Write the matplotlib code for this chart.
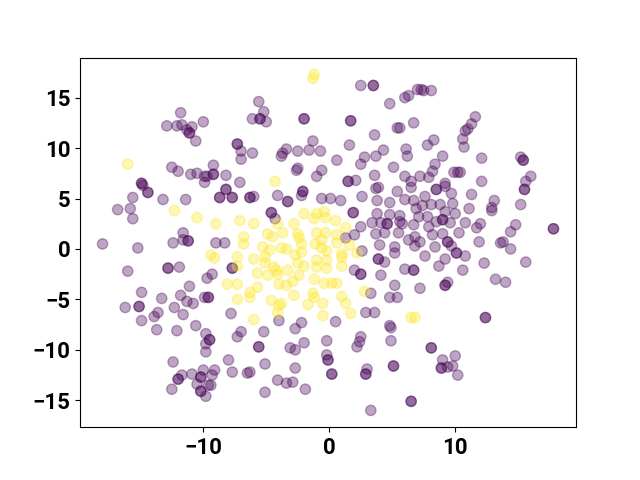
import numpy as np
import matplotlib
matplotlib.use("Agg")
import matplotlib.pyplot as plt
from matplotlib.ticker import MultipleLocator

# class 0 (purple) points; repeated pairs are the darker overlaps
purple = [
    (-11.8, 13.5), (-12.9, 12.2), (-12.1, 12.2), (-11.7, 12.3), (-11.3, 11.8), (-11.1, 11.5), (-11.1, 11.5),
    (-10.9, 12.1), (-10.6, 10.7), (-10.0, 12.6), (-12.5, 8.1), (-12.0, 7.7), (-11.0, 7.4), (-10.5, 7.5), (-9.9, 7.2),
    (-5.6, 14.6), (-5.2, 13.6), (-6.1, 12.9), (-5.5, 12.9), (-5.5, 12.9), (-5.0, 12.6), (-2.0, 12.9), (-2.0, 12.9),
    (-7.3, 10.4), (-7.3, 10.4), (-7.0, 9.7), (-7.0, 8.9), (-6.1, 9.5), (-1.3, 10.7), (-1.6, 9.8), (-0.7, 9.7),
    (-2.5, 9.7), (-3.4, 9.9), (-3.7, 9.5), (-3.8, 9.2), (-9.2, 8.3), (-9.2, 7.4), (-9.2, 7.4), (-9.7, 7.2),
    (-8.2, 7.3), (-2.5, 8.0), (-2.6, 7.8), (-0.6, 7.8), (-1.0, 7.2),
    (2.5, 16.2), (3.5, 16.2), (3.5, 16.2), (7.0, 15.8), (7.3, 15.8), (7.5, 15.7), (8.1, 15.7), (6.3, 15.2),
    (6.0, 15.0), (4.8, 14.4), (1.7, 12.7), (1.7, 12.7), (6.7, 12.5), (5.6, 12.0), (5.4, 12.0), (3.6, 11.3),
    (1.6, 10.3), (8.3, 10.8), (7.8, 10.3), (4.3, 9.8), (6.1, 9.9), (6.2, 9.2), (0.6, 8.8), (2.8, 9.1),
    (2.5, 8.4), (3.7, 9.2), (9.0, 9.2), (8.4, 8.4), (5.1, 8.1), (8.2, 7.7), (3.6, 7.3), (6.0, 7.2),
    (7.2, 7.2), (7.9, 7.1), (1.5, 6.7), (1.5, 6.7), (2.1, 6.8), (6.5, 6.7), (9.2, 6.5), (9.9, 7.6),
    (11.6, 13.1), (11.3, 12.4), (11.0, 11.9), (10.8, 11.7), (10.6, 10.9), (10.7, 10.1), (12.1, 9.0), (15.2, 9.1),
    (15.4, 8.8), (15.4, 8.8), (10.2, 7.6), (10.4, 7.6), (16.0, 7.2), (12.1, 6.7), (15.6, 6.7),
    (-14.9, 6.5), (-14.9, 6.5), (-14.8, 6.3), (-14.4, 5.6), (-14.4, 5.6), (-15.6, 5.1), (-16.8, 3.9), (-15.8, 4.0),
    (-15.6, 3.0), (-13.2, 4.9), (-11.4, 4.9), (-11.6, 1.6), (-11.6, 0.9), (-11.2, 0.8), (-11.2, 0.8), (-12.4, 0.6),
    (-18.0, 0.5), (-15.2, 0.1), (-16.0, -2.2), (-12.8, -1.9), (-12.8, -1.9), (-11.9, -1.8), (-14.9, -4.3),
    (-11.1, -3.7), (-11.8, -4.6), (-11.3, -5.2), (-10.8, -5.4), (-13.3, -4.9), (-9.9, -4.8), (-15.1, -5.7),
    (-15.1, -5.7), (-16.2, -5.8),
    (-9.9, 6.6), (-8.2, 5.9), (-8.2, 5.9), (-7.7, 5.1), (-7.7, 5.1), (-7.1, 6.6), (-8.7, 5.1), (-8.7, 5.1),
    (-6.3, 5.1), (-6.3, 5.1), (-6.0, 5.2), (-4.1, 5.3), (-3.3, 4.7), (-3.3, 4.7), (-2.1, 5.7), (-2.1, 5.7),
    (-2.2, 5.3), (-0.6, 5.0), (-4.6, 3.6), (-4.6, 3.6), (-4.3, 3.0), (-9.0, 0.6), (-8.3, 0.6), (-7.7, -1.9),
    (-7.7, -1.9), (-9.3, -2.5), (-9.7, -2.9), (-9.6, -4.8), (-9.6, -4.8),
    (3.7, 6.0), (3.9, 6.1), (5.4, 5.7), (6.5, 6.1), (8.5, 5.9), (8.5, 5.9), (9.2, 6.2), (9.7, 5.5),
    (0.1, 5.0), (0.9, 4.8), (2.6, 5.2), (3.8, 4.8), (4.8, 4.6), (6.0, 4.9), (6.7, 4.8), (7.6, 5.2),
    (7.4, 4.3), (8.1, 4.4), (8.8, 4.4), (6.9, 4.0), (9.2, 3.7), (9.8, 4.5), (1.9, 3.6), (1.9, 3.6),
    (3.8, 3.5), (4.8, 3.4), (5.6, 3.3), (7.1, 3.2), (7.8, 3.2), (3.4, 2.6), (4.1, 2.6), (4.6, 2.5),
    (4.6, 2.5), (5.8, 2.5), (5.6, 2.7), (6.7, 2.4), (8.5, 2.7), (9.0, 2.9), (9.0, 2.9), (2.5, 2.2),
    (7.9, 2.2), (9.6, 2.6), (2.0, 1.4), (1.3, 1.1), (3.7, 1.5), (4.4, 1.6), (5.5, 1.6), (6.3, 0.9),
    (6.8, 1.2), (7.2, 0.7), (8.2, 1.4), (9.0, 1.5), (9.4, 0.7), (9.4, 0.7), (6.8, 0.3), (8.4, 0.2),
    (4.0, 0.4), (5.2, 0.2), (9.7, 0.3), (2.6, -0.2), (5.2, -0.4), (3.9, -1.0), (3.9, -1.0), (4.4, -1.3),
    (7.6, -0.7), (9.2, -1.0), (8.7, -1.7), (6.0, -2.0), (6.7, -2.1), (6.7, -2.1), (2.0, -2.1), (2.5, -2.5),
    (2.5, -2.5), (4.1, -2.6), (5.2, -3.6), (7.2, -3.9), (9.2, -3.6), (9.2, -3.6), (9.4, -3.3), (4.8, -4.8),
    (5.4, -4.8), (3.3, -4.4),
    (15.5, 5.9), (15.5, 5.9), (11.3, 5.4), (13.1, 4.8), (12.9, 4.1), (12.9, 3.8), (11.1, 4.0), (15.2, 4.4),
    (10.0, 3.5), (10.8, 2.6), (12.0, 2.5), (11.7, 2.1), (14.8, 2.4), (14.4, 1.7), (17.8, 2.0), (17.8, 2.0),
    (10.3, 1.6), (11.9, 0.7), (13.6, 0.6), (13.8, 0.7), (14.4, 0.0), (10.1, -0.4), (10.1, -0.4), (10.8, -0.7),
    (12.3, -1.4), (15.6, -1.3), (10.6, -2.1), (13.2, -3.0), (14.0, -3.3),
    (-14.9, -7.1), (-13.9, -6.7), (-13.6, -6.3), (-13.7, -8.0), (-12.3, -5.8), (-12.1, -8.1), (-11.6, -6.5),
    (-10.6, -7.6), (-9.8, -8.4), (-9.8, -9.4), (-9.8, -10.2), (-12.4, -11.2), (-11.7, -12.5), (-12.0, -12.9),
    (-12.0, -12.9), (-10.9, -12.4), (-10.2, -12.7), (-10.2, -12.7), (-10.0, -12.0), (-12.5, -13.9),
    (-10.5, -13.4), (-10.2, -14.1), (-10.2, -14.1), (-9.8, -14.6),
    (-7.8, -6.4), (-4.0, -7.1), (-2.2, -7.3), (-2.7, -7.9), (-7.0, -8.2), (-7.3, -8.7), (-5.2, -8.2),
    (-9.5, -9.0), (-9.5, -9.0), (-5.6, -9.7), (-5.6, -9.7), (-3.1, -9.8), (-2.7, -10.0), (-2.0, -9.3),
    (-0.2, -9.1), (-8.0, -11.0), (-5.1, -11.4), (-2.7, -11.8), (-0.2, -10.5), (-0.1, -11.0), (-0.1, -11.0),
    (-9.1, -12.0), (-9.3, -12.5), (-7.7, -12.2), (-6.5, -12.3), (-6.3, -12.2), (-4.1, -13.0), (-3.4, -13.3),
    (-2.9, -13.2), (-1.9, -13.9), (-5.1, -14.2), (-9.6, -13.5), (-9.4, -13.5),
    (2.9, -6.3), (3.6, -6.3), (0.5, -7.2), (4.8, -7.6), (4.9, -7.8), (4.9, -9.1), (2.5, -8.7), (2.4, -9.2),
    (2.2, -9.7), (8.1, -9.8), (8.1, -9.8), (0.2, -12.4), (0.2, -12.4), (3.0, -11.9), (2.9, -12.4), (2.9, -12.4),
    (5.1, -11.6), (5.1, -11.6), (9.0, -11.0), (8.9, -11.8), (8.9, -11.8), (9.4, -11.7), (9.8, -11.6),
    (6.5, -15.1), (6.5, -15.1), (3.3, -16.0),
    (12.4, -6.8), (12.4, -6.8), (10.0, -10.6), (10.2, -12.5),
]

# class 1 (yellow) points
yellow = [
    (-16.0, 8.4), (-1.2, 17.3), (-1.3, 16.9), (-12.3, 3.8), (-10.5, 3.1), (-4.3, 6.7),
    (-9.0, 2.5), (-7.1, 2.8), (-6.0, 2.5), (-4.1, 2.5), (-2.0, 3.5), (-1.0, 3.5), (-0.4, 3.7), (-1.2, 3.0),
    (-0.3, 3.1), (-6.8, 1.2), (-6.8, 0.5), (-4.9, 1.5), (-4.5, 1.2), (-3.7, 1.6), (-2.8, 2.5), (-2.5, 1.5),
    (-2.4, 1.1), (-2.2, 0.5), (-1.0, 1.6), (-0.3, 1.6), (-0.6, 0.9), (-1.1, 0.5), (-0.6, 0.1), (-0.2, -0.2),
    (-5.3, 0.2), (-4.7, -0.1), (-3.8, 0.1), (-3.4, 0.0), (-2.2, -0.3), (-2.7, -0.6), (-9.4, -0.6), (-9.1, -0.9),
    (-7.3, -0.8), (-6.0, -1.0), (-5.1, -0.8), (-5.1, -1.4), (-4.4, -1.8), (-4.2, -2.1), (-3.3, -2.1),
    (-2.5, -1.4), (-2.0, -1.7), (-1.0, -1.1), (-1.0, -1.8), (-0.2, -1.1), (-0.2, -1.9), (-7.3, -1.7),
    (-5.7, -2.4), (-4.9, -2.6), (-4.1, -2.5), (-2.4, -2.6), (-2.9, -3.2), (-3.4, -3.6), (-1.2, -3.0),
    (-0.4, -3.4), (-8.1, -3.5), (-7.3, -3.5), (-5.7, -3.8), (-6.3, -4.3), (-6.3, -4.8), (-4.0, -3.5),
    (-2.8, -4.6), (-1.3, -4.4), (-1.2, -4.8), (-7.3, -5.0), (-4.6, -5.1), (-3.8, -5.4), (-0.5, -5.4),
    (0.5, 2.8), (1.3, 2.1), (0.6, 1.4), (0.6, 0.6), (1.6, 0.4), (1.0, -0.5), (1.0, -0.8), (2.2, -0.4),
    (1.0, -1.7), (0.2, -3.4), (0.6, -3.4), (2.8, -4.2), (1.0, -4.7), (1.3, -5.4),
    (-6.0, -7.0), (-4.0, -5.6), (-4.1, -6.3), (-1.7, -5.5), (-0.5, -6.6),
    (1.7, -6.4), (6.5, -6.8), (6.8, -6.8),
]

x = np.array([p[0] for p in purple] + [p[0] for p in yellow])
y = np.array([p[1] for p in purple] + [p[1] for p in yellow])
labels = np.array([0] * len(purple) + [1] * len(yellow))

plt.rcParams['font.family'] = ['Roboto', 'DejaVu Sans']

fig, ax = plt.subplots(figsize=(6.4, 4.8), dpi=100)
ax.scatter(x, y, c=labels, cmap='viridis', alpha=0.35, s=55)
ax.xaxis.set_major_locator(MultipleLocator(10))
ax.yaxis.set_major_locator(MultipleLocator(5))
for lab in ax.get_xticklabels() + ax.get_yticklabels():
    lab.set_fontsize(16)
    lab.set_fontweight('bold')

plt.savefig("out.png")
